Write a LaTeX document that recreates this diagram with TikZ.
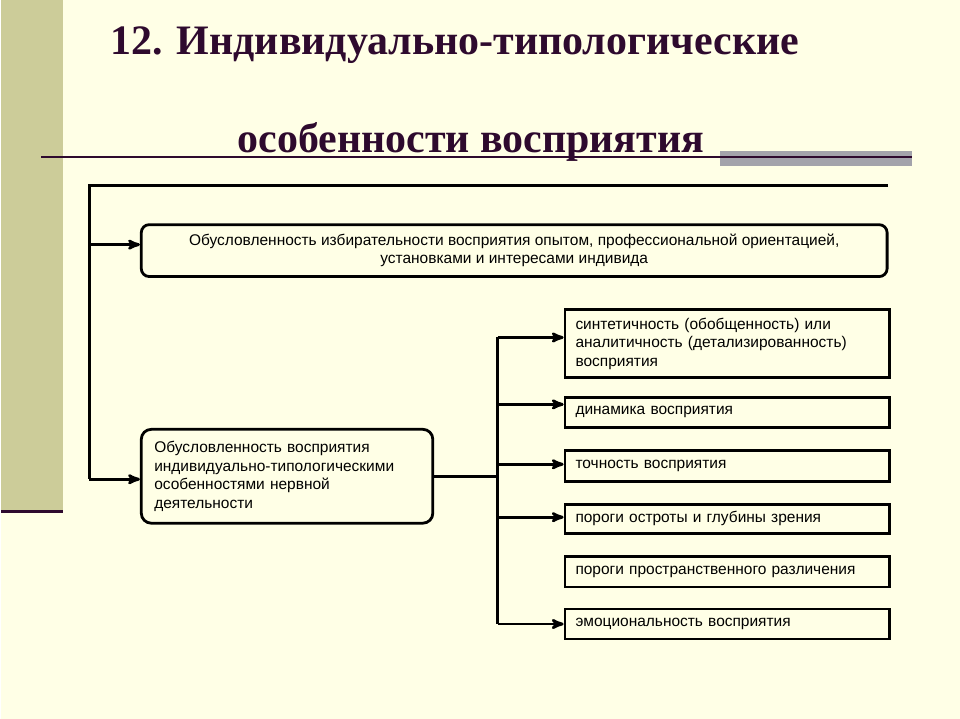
\documentclass[tikz,border=0pt]{standalone}
\usepackage{fontspec}
\setmainfont{Liberation Sans}
\newfontfamily\titlefont{Liberation Serif}
\usetikzlibrary{arrows,positioning}
\definecolor{bg}{HTML}{FFFFE6}
\definecolor{bar}{HTML}{CCCC99}
\definecolor{plum}{HTML}{2E0A2E}
\definecolor{greybar}{HTML}{A3A3AB}
\begin{document}
\begin{tikzpicture}[x=1pt, y=-1pt, >=stealth',
		every node/.style={font=\fontsize{15.5}{18.5}\selectfont},
		post/.style={->, line width=2.8pt},
		link/.style={line width=2.8pt},
		wide/.style={draw, line width=2.8pt, rounded corners=8pt, minimum width=747pt, minimum height=52pt, align=center},
		cause/.style={draw, line width=2.8pt, rounded corners=10pt, minimum width=292pt, minimum height=94pt, align=left, text width=266pt},
		item/.style={draw, line width=2.8pt, minimum width=325pt, anchor=west, align=left, text width=304pt}]

	% background
	\fill[bg] (0,0) rectangle (960,720);
	\fill[bar] (0,0) rectangle (62,512);
	\draw[plum, line width=3pt] (0,512) -- (62,512);
	\useasboundingbox (0,0) rectangle (960,720);

	% title
	\node[plum, font=\titlefont\bfseries\fontsize{42}{48}\selectfont] (T1) at (454,45) {12. Индивидуально-типологические};
	\node[plum, font=\titlefont\bfseries\fontsize{42}{48}\selectfont] (T2) at (470,142) {особенности восприятия};
	\fill[greybar] (720,151) rectangle (912,166);
	\draw[plum, line width=2pt] (40,157) -- (912,157);

	% boxes
	\node[wide] (B1) at (513.5,251) {Обусловленность избирательности восприятия опытом, профессиональной ориентацией,\\установками и интересами индивида};
	\node[cause] (B2) at (286,477) {Обусловленность восприятия\\индивидуально-типологическими\\особенностями нервной\\деятельности};

	\node[item, minimum height=68pt] (S1) at (563,344) {синтетичность (обобщенность) или\\аналитичность (детализированность)\\восприятия};
	\node[item, minimum height=30pt] (S2) at (563,413) {динамика восприятия};
	\node[item, minimum height=31pt] (S3) at (563,466.5) {точность восприятия};
	\node[item, minimum height=29pt] (S4) at (563,519.5) {пороги остроты и глубины зрения};
	\node[item, minimum height=31pt] (S5) at (563,572.5) {пороги пространственного различения};
	\node[item, minimum height=30pt] (S6) at (563,625) {эмоциональность восприятия};

	% connectors
	\coordinate (top) at (888,186);
	\coordinate (L) at (88,186);
	\draw[link] (top) -- (L) -- (88,480);
	\draw[post] (88,245) -- (B1.west |- 0,245);
	\draw[post] (88,480) -- (B2.west |- 0,480);

	\coordinate (R) at (497,338);
	\draw[link] (B2.east |- 0,477) -- (497,477);
	\draw[link] (R) -- (497,625);
	\foreach \n/\y in {S1/338, S2/405, S3/465, S4/518, S6/625}
		\draw[post] (497,\y) -- (\n.west |- 0,\y);

\end{tikzpicture}
\end{document}
